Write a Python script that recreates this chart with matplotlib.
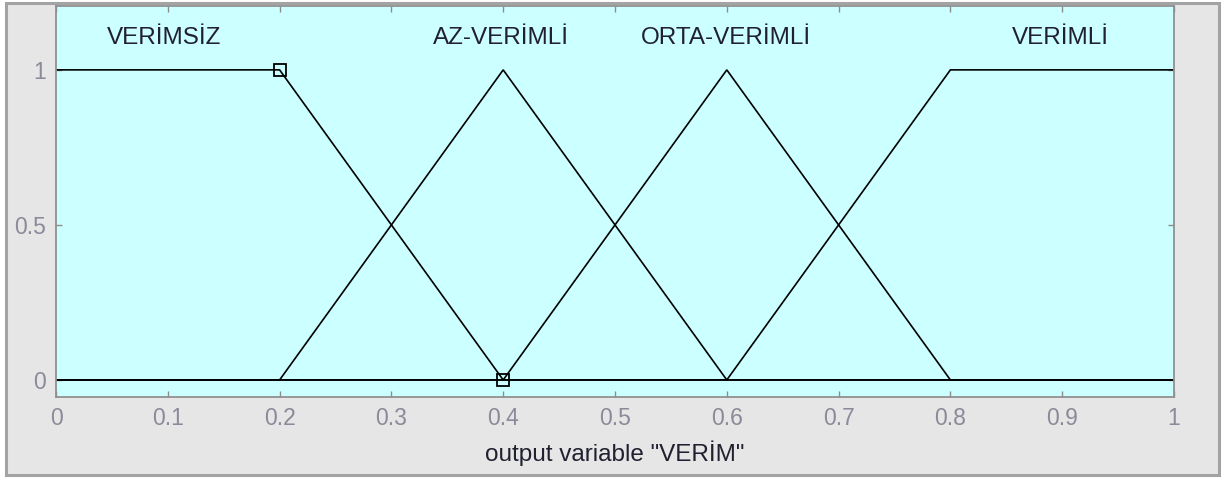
"""
Fuzzy membership functions of the output variable "VERİM" (MATLAB FIS editor style).
"""
import matplotlib
matplotlib.use("Agg")
import matplotlib.pyplot as plt
from matplotlib.patches import Rectangle

plt.rcParams["font.family"] = ["Liberation Sans", "DejaVu Sans"]

# membership function vertices
MF_NAMES = ["VERİMSİZ", "AZ-VERİMLİ", "ORTA-VERİMLİ", "VERİMLİ"]
MF_X = [
    [0.0, 0.2, 0.4, 1.0],
    [0.0, 0.2, 0.4, 0.6, 1.0],
    [0.0, 0.4, 0.6, 0.8, 1.0],
    [0.0, 0.6, 0.8, 1.0],
]
MF_Y = [
    [1, 1, 0, 0],
    [0, 0, 1, 0, 0],
    [0, 0, 1, 0, 0],
    [0, 0, 1, 1],
]
LABEL_X = [0.097, 0.398, 0.599, 0.898]   # where the names sit
SEL_X = [0.2, 0.4]                        # square handles of the selected MF
SEL_Y = [1, 0]
XTICKS = [0, 0.1, 0.2, 0.3, 0.4, 0.5, 0.6, 0.7, 0.8, 0.9, 1]
XTICKLABELS = ["0", "0.1", "0.2", "0.3", "0.4", "0.5", "0.6", "0.7", "0.8", "0.9", "1"]
YTICKS = [0, 0.5, 1]
YTICKLABELS = ["0", "0.5", "1"]

W, H = 1226, 479
fig = plt.figure(figsize=(W / 100, H / 100), dpi=100, facecolor="white")

# grey panel with a darker frame behind everything
fig.patches.append(Rectangle((6 / W, 4 / H), 1213 / W, 472 / H,
                             transform=fig.transFigure, facecolor="#e6e6e6",
                             edgecolor="#a3a3a3", lw=2.2, zorder=-10))

ax = fig.add_axes([56 / W, (H - 397) / H, 1118 / W, 391 / H])
ax.set_facecolor("#ccffff")

for xs, ys in zip(MF_X, MF_Y):
    ax.plot(xs, ys, "-", color="black", lw=1.2, solid_joinstyle="miter")
ax.plot(SEL_X, SEL_Y, "s", ms=8.5, mfc="none", mec="black", mew=1.3)

for name, lx in zip(MF_NAMES, LABEL_X):
    ax.text(lx, 1.104, name, ha="center", va="center", fontsize=17.5,
            color="#202030")

ax.set_xlim(0, 1)
ax.set_ylim(-0.055, 1.206)
ax.set_xticks(XTICKS, XTICKLABELS)
ax.set_yticks(YTICKS, YTICKLABELS)
ax.tick_params(direction="in", length=4, width=1.0, color="#8c8c8c",
               labelcolor="#8a8a9a", labelsize=16.5,
               top=True, right=True)
ax.tick_params(axis="x", pad=7)
ax.tick_params(axis="y", pad=7)
for sp in ax.spines.values():
    sp.set_color("#909090")
    sp.set_linewidth(1.3)

ax.set_xlabel('output variable "VERİM"', fontsize=17.5, color="#202030",
              labelpad=8)

fig.savefig("out.png", dpi=100, facecolor="white")
